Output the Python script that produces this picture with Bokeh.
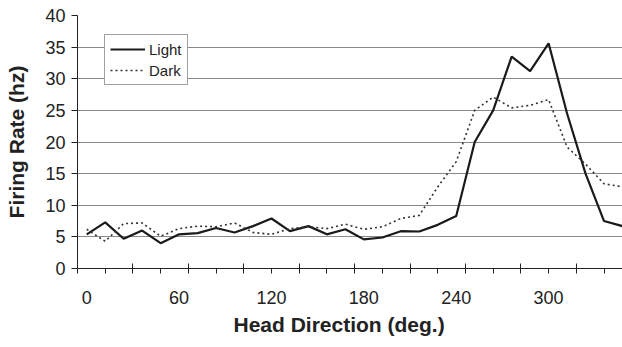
from bokeh.plotting import figure
from bokeh.models import FixedTicker, LinearAxis, Legend, LegendItem, Title
from bokeh.embed import file_html
from bokeh.resources import INLINE

# ---- data ----
head_direction = [0, 12, 24, 36, 48, 60, 72, 84, 96, 108, 120, 132, 144, 156, 168,
                  180, 192, 204, 216, 228, 240, 252, 264, 276, 288, 300, 312, 324, 336, 348]
light_rate = [5.4, 7.3, 4.7, 6.0, 4.0, 5.4, 5.6, 6.4, 5.7, 6.7, 7.9, 5.9, 6.7, 5.4, 6.2,
              4.6, 4.9, 5.9, 5.85, 6.9, 8.3, 20.0, 25.0, 33.5, 31.2, 35.6, 24.5, 15.0, 7.5, 6.7]
dark_rate = [6.2, 4.3, 7.1, 7.2, 5.1, 6.3, 6.7, 6.6, 7.2, 5.7, 5.4, 6.3, 6.6, 6.3, 7.0,
             6.2, 6.6, 7.9, 8.4, 12.9, 16.9, 25.0, 27.1, 25.4, 25.8, 26.7, 19.2, 16.5, 13.4, 12.9]
x_tick_labels = [0, 60, 120, 180, 240, 300]
y_ticks = [0, 5, 10, 15, 20, 25, 30, 35, 40]

FONT = "Liberation Sans"
INK = "#222222"

p = figure(width=622, height=347, x_range=(-6, 348), y_range=(0, 40),
           output_backend="svg", toolbar_location=None,
           min_border_left=77, min_border_right=0, min_border_top=15, min_border_bottom=79)
p.outline_line_color = None
p.background_fill_color = "white"
p.border_fill_color = "white"

# x axis: labels every 60 deg, tick marks every 18 deg
xa = p.xaxis[0]
minor_pos = [-6 + 18 * k for k in range(20)]
long_pos = [v for i, v in enumerate(minor_pos) if i % 2 == 0 and i > 0]
xa.ticker = FixedTicker(ticks=x_tick_labels, minor_ticks=minor_pos)
xa.major_tick_in = 0
xa.major_tick_out = 0
xa.minor_tick_in = 0
xa.minor_tick_out = 5
xa.minor_tick_line_color = INK
xa.axis_line_color = INK
xa.major_label_standoff = 17
xa.major_label_text_font = FONT
xa.major_label_text_font_size = "18px"
xa.major_label_text_color = INK

# inner half of the long (crossing) tick marks
xa2 = LinearAxis(fixed_location=0, ticker=FixedTicker(ticks=long_pos, minor_ticks=[]),
                 major_tick_in=5, major_tick_out=0, axis_line_color=None,
                 major_tick_line_color=INK, minor_tick_line_color=None,
                 major_label_text_color=None)
p.add_layout(xa2, "below")

xtitle = Title(text="Head Direction (deg.)", align="left", offset=156,
               text_font=FONT, text_font_style="bold", text_font_size="21px",
               text_color=INK, standoff=9)
p.add_layout(xtitle, "below")

ya = p.yaxis[0]
ya.ticker = FixedTicker(ticks=y_ticks)
ya.major_tick_in = 0
ya.major_tick_out = 6
ya.minor_tick_line_color = None
ya.axis_line_color = INK
ya.major_tick_line_color = INK
ya.major_label_standoff = 6
ya.major_label_text_font = FONT
ya.major_label_text_font_size = "18px"
ya.major_label_text_color = INK
ya.axis_label = "Firing Rate (hz)"
ya.axis_label_text_font = FONT
ya.axis_label_text_font_style = "bold"
ya.axis_label_text_font_size = "21px"
ya.axis_label_text_color = INK
ya.axis_label_standoff = 14

p.xgrid.grid_line_color = None
p.ygrid.ticker = FixedTicker(ticks=y_ticks[1:])
p.ygrid.grid_line_color = "#8a8a8a"
p.ygrid.grid_line_width = 1

r_light = p.line(head_direction, light_rate, line_color="#1a1a1a", line_width=2.2)
r_dark = p.line(head_direction, dark_rate, line_color="#333333", line_width=1.6, line_dash="2 3")

legend = Legend(items=[LegendItem(label="Light", renderers=[r_light]),
                       LegendItem(label="Dark", renderers=[r_dark])],
                location=(27, 183), orientation="vertical",
                label_text_font=FONT, label_text_font_size="15px", label_text_color=INK,
                glyph_width=35, glyph_height=18, label_height=18, label_standoff=4,
                spacing=3, padding=5, margin=0,
                border_line_color="#444444", border_line_width=1,
                background_fill_color="white", background_fill_alpha=1.0)
p.add_layout(legend, "center")

open("out.html", "w").write(file_html(p, INLINE))
